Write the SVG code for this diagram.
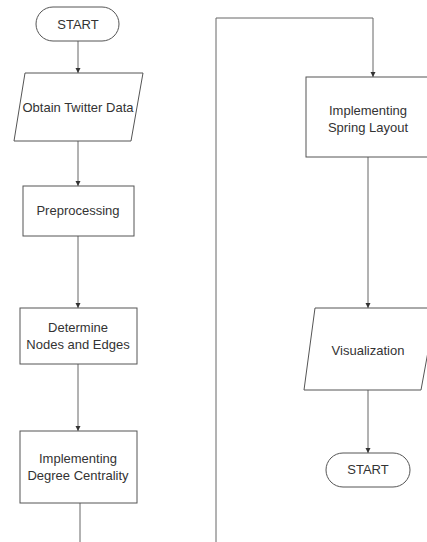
<svg xmlns="http://www.w3.org/2000/svg" width="427" height="542" viewBox="0 0 427 542">
<style>
.s{fill:#fff;stroke:#555;stroke-width:1}
.c{fill:none;stroke:#666;stroke-width:1}
text{font-family:"Liberation Sans",Arial,sans-serif;font-size:13px;fill:#333;text-anchor:middle}
</style>
<defs>
<marker id="a" markerWidth="6" markerHeight="6" refX="5" refY="3" orient="auto" markerUnits="userSpaceOnUse">
<path d="M0,0.5 L5,3 L0,5.5 Z" fill="#333"/>
</marker>
</defs>
<rect width="427" height="542" fill="#fff"/>
<g id="connectors">
<line class="c" x1="78" y1="41" x2="78" y2="73" marker-end="url(#a)"/>
<line class="c" x1="78" y1="141" x2="78" y2="186" marker-end="url(#a)"/>
<line class="c" x1="78" y1="236" x2="78" y2="308" marker-end="url(#a)"/>
<line class="c" x1="78" y1="364" x2="78" y2="431" marker-end="url(#a)"/>
<line class="c" x1="80" y1="503" x2="80" y2="542"/>
<polyline class="c" points="216,542 216,18 373,18 373,77" marker-end="url(#a)"/>
<line class="c" x1="368" y1="157" x2="368" y2="308" marker-end="url(#a)"/>
<line class="c" x1="368" y1="390" x2="368" y2="453" marker-end="url(#a)"/>
</g>
<g id="start1">
<rect class="s" x="36" y="7" width="83" height="34" rx="17"/>
<text x="78" y="29">START</text>
</g>
<g id="obtain">
<polygon class="s" points="25,73 143,73 131,141 14,141"/>
<text x="78" y="112">Obtain Twitter Data</text>
</g>
<g id="preprocessing">
<rect class="s" x="23" y="186" width="111" height="50"/>
<text x="78" y="215">Preprocessing</text>
</g>
<g id="determine">
<rect class="s" x="20" y="308" width="117" height="56"/>
<text x="78" y="332">Determine</text>
<text x="78" y="349">Nodes and Edges</text>
</g>
<g id="degree">
<rect class="s" x="20" y="431" width="117" height="72"/>
<text x="78" y="463">Implementing</text>
<text x="78" y="480">Degree Centrality</text>
</g>
<g id="spring">
<rect class="s" x="306" y="77" width="130" height="80"/>
<text x="368" y="115">Implementing</text>
<text x="368" y="132">Spring Layout</text>
</g>
<g id="visualization">
<polygon class="s" points="315,308 436,308 421,390 304,390"/>
<text x="368" y="355">Visualization</text>
</g>
<g id="start2">
<rect class="s" x="326" y="453" width="84" height="34" rx="17"/>
<text x="368" y="474">START</text>
</g>
</svg>
